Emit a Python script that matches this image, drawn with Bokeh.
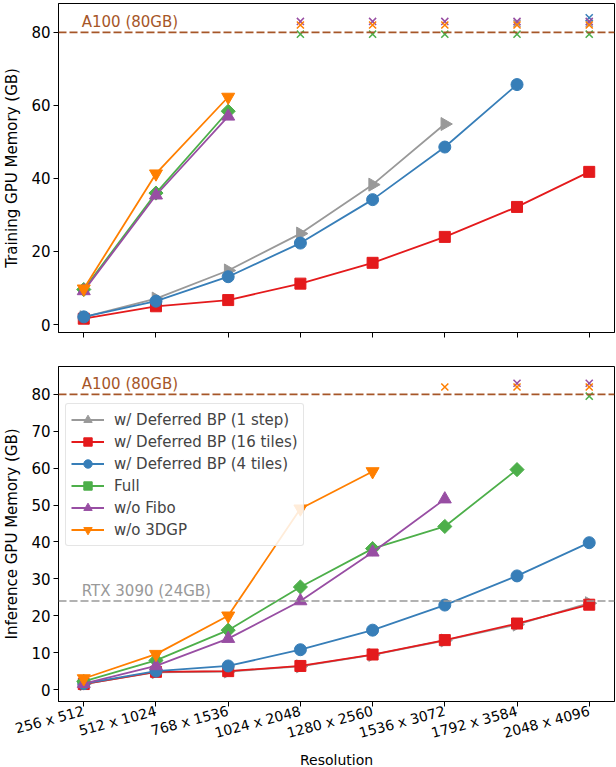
import numpy as np
from bokeh.plotting import figure
from bokeh.models import ColumnDataSource, Span, FixedTicker, Legend, LegendItem, Label
from bokeh.layouts import column
from bokeh.embed import file_html
from bokeh.resources import INLINE

resolutions = ["256 x 512", "512 x 1024", "768 x 1536", "1024 x 2048",
               "1280 x 2560", "1536 x 3072", "1792 x 3584", "2048 x 4096"]

# Training GPU memory (GB)
train_1step = [2.0, 7.1, 14.8, 24.9, 38.3, 54.9]
train_16tiles = [1.6, 5.0, 6.7, 11.2, 16.9, 24.0, 32.2, 41.8]
train_4tiles = [2.1, 6.4, 13.1, 22.3, 34.2, 48.6, 65.7]
train_full = [9.6, 36.0, 58.4]
train_nofibo = [9.2, 35.4, 57.0]
train_no3dgp = [9.8, 41.3, 62.3]

# Inference GPU memory (GB)
inf_1step = [1.5, 4.7, 4.9, 6.3, 9.4, 13.3, 17.6, 23.4]
inf_16tiles = [1.5, 4.8, 5.0, 6.4, 9.5, 13.4, 17.9, 23.0]
inf_4tiles = [1.6, 5.0, 6.4, 10.8, 16.1, 22.9, 30.8, 39.8]
inf_full = [2.2, 7.9, 16.1, 27.8, 38.2, 44.2, 59.6]
inf_nofibo = [1.6, 6.4, 13.8, 24.0, 37.2, 51.6]
inf_no3dgp = [3.0, 9.6, 20.0, 49.0, 59.1]

# Out-of-memory markers: (category indices, plotted level)
train_oom = {
    "1step": ([6, 7], 82.5),
    "4tiles": ([7], 84.0),
    "full": ([3, 4, 5, 6, 7], 79.5),
    "nofibo": ([3, 4, 5, 6, 7], 83.0),
    "no3dgp": ([3, 4, 5, 6, 7], 82.0),
}
inf_oom = {
    "full": ([7], 79.5),
    "nofibo": ([6, 7], 83.0),
    "no3dgp": ([5, 6, 7], 82.0),
}

a100_level = 80
rtx_level = 24

names = ["w/ Deferred BP (1 step)", "w/ Deferred BP (16 tiles)", "w/ Deferred BP (4 tiles)",
         "Full", "w/o Fibo", "w/o 3DGP"]
keys = ["1step", "16tiles", "4tiles", "full", "nofibo", "no3dgp"]
colors = {"1step": "#999999", "16tiles": "#e41a1c", "4tiles": "#377eb8",
          "full": "#4daf4a", "nofibo": "#984ea3", "no3dgp": "#ff7f00"}
markers = {"1step": ("triangle", -np.pi / 2, 13), "16tiles": ("square", 0, 11),
           "4tiles": ("circle", 0, 12), "full": ("square", np.pi / 4, 10),
           "nofibo": ("triangle", 0, 13), "no3dgp": ("inverted_triangle", 0, 13)}

FONT = "DejaVu Sans"
FS = "15px"
FS_X = "14px"


def make_fig(frame_h, y_range, ticks, ylabel, show_xlabels, mb_top, mb_bottom):
    p = figure(frame_width=556, frame_height=frame_h, x_range=(-0.35, 7.35), y_range=y_range,
               output_backend="svg", toolbar_location=None,
               min_border_left=8, min_border_right=3, min_border_top=mb_top, min_border_bottom=mb_bottom)
    p.grid.visible = False
    p.outline_line_color = "black"
    p.outline_line_alpha = 1.0
    p.outline_line_width = 1
    p.background_fill_color = "white"
    for ax in (p.xaxis[0], p.yaxis[0]):
        ax.major_tick_out = 5
        ax.major_tick_in = 0
        ax.minor_tick_line_color = None
        ax.axis_line_color = "black"
        ax.major_tick_line_color = "black"
        ax.major_label_text_font = FONT
        ax.major_label_text_font_size = FS
        ax.major_label_text_color = "black"
        ax.axis_label_text_font = FONT
        ax.axis_label_text_font_size = FS
        ax.axis_label_text_font_style = "normal"
        ax.axis_label_text_color = "black"
    p.yaxis.ticker = FixedTicker(ticks=ticks)
    p.yaxis.axis_label = ylabel
    p.yaxis.major_label_standoff = 3
    p.yaxis.axis_label_standoff = 7
    p.xaxis.ticker = FixedTicker(ticks=list(range(len(resolutions))))
    if show_xlabels:
        p.xaxis.major_label_overrides = {i: r for i, r in enumerate(resolutions)}
        p.xaxis.major_label_orientation = 0.26
        p.xaxis.major_label_text_font_size = FS_X
        p.xaxis.major_label_standoff = 4
        p.xaxis.axis_label = "Resolution"
        p.xaxis.axis_label_text_font_size = FS_X
        p.xaxis.axis_label_standoff = 0
    else:
        p.xaxis.major_label_overrides = {i: "" for i in range(len(resolutions))}
    return p


def draw(p, series, oom, legend):
    items = []
    for k, name in zip(keys, names):
        ys = series[k]
        src = ColumnDataSource(dict(x=list(range(len(ys))), y=ys))
        mk, ang, sz = markers[k]
        l = p.line("x", "y", source=src, line_color=colors[k], line_width=1.8)
        s = p.scatter("x", "y", source=src, marker=mk, angle=ang, size=sz,
                      fill_color=colors[k], line_color=colors[k], line_width=1)
        items.append(LegendItem(label=name, renderers=[l, s]))
    for k in keys:
        if k in oom:
            xs, lvl = oom[k]
            src = ColumnDataSource(dict(x=xs, y=[lvl] * len(xs)))
            p.scatter("x", "y", source=src, marker="x", size=10, line_color=colors[k], line_width=1.5)
    if legend:
        lg = Legend(items=items, location=(7, 155))
        lg.label_text_font = FONT
        lg.label_text_font_size = FS
        lg.label_height = 21
        lg.glyph_height = 21
        lg.glyph_width = 33
        lg.label_standoff = 10
        lg.spacing = 1
        lg.padding = 5
        lg.margin = 0
        lg.border_line_color = "#cccccc"
        lg.border_line_width = 1
        lg.border_radius = 3
        lg.background_fill_alpha = 0.85
        p.add_layout(lg)


train = {"1step": train_1step, "16tiles": train_16tiles, "4tiles": train_4tiles,
         "full": train_full, "nofibo": train_nofibo, "no3dgp": train_no3dgp}
inf = {"1step": inf_1step, "16tiles": inf_16tiles, "4tiles": inf_4tiles,
       "full": inf_full, "nofibo": inf_nofibo, "no3dgp": inf_no3dgp}

p1 = make_fig(329, (-2.18, 87.9), [0, 20, 40, 60, 80], "Training GPU Memory (GB)", False, 3, 32)
p1.add_layout(Span(location=a100_level, dimension="width", line_color="#a65628",
                   line_dash="8 3", line_width=1.6))
p1.add_layout(Label(x=0, y=a100_level, text="A100 (80GB)", text_font=FONT, text_font_size=FS,
                    text_color="#a65628", text_baseline="bottom", x_offset=-2, y_offset=1))
draw(p1, train, train_oom, False)

p2 = make_fig(335, (-3.23, 87.54), [0, 10, 20, 30, 40, 50, 60, 70, 80], "Inference GPU Memory (GB)", True, 2, 10)
p2.add_layout(Span(location=a100_level, dimension="width", line_color="#a65628",
                   line_dash="8 3", line_width=1.6))
p2.add_layout(Label(x=0, y=a100_level, text="A100 (80GB)", text_font=FONT, text_font_size=FS,
                    text_color="#a65628", text_baseline="bottom", x_offset=-2, y_offset=1))
p2.add_layout(Span(location=rtx_level, dimension="width", line_color="#999999",
                   line_dash="8 3", line_width=1.6))
p2.add_layout(Label(x=0, y=rtx_level, text="RTX 3090 (24GB)", text_font=FONT, text_font_size=FS,
                    text_color="#999999", text_baseline="bottom", x_offset=-2, y_offset=1))
draw(p2, inf, inf_oom, True)

layout = column(p1, p2)
open("out.html", "w").write(file_html(layout, INLINE))
